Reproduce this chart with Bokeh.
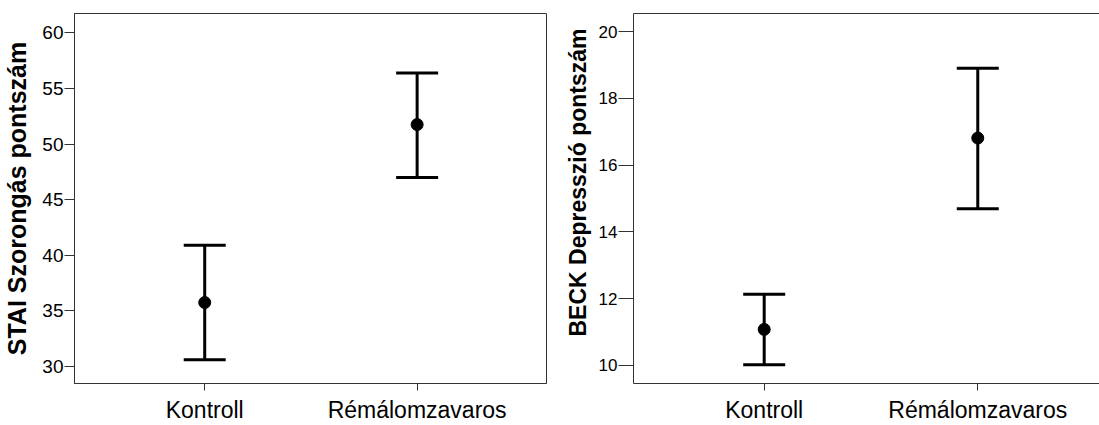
import numpy as np
from bokeh.plotting import figure
from bokeh.layouts import row
from bokeh.models import (ColumnDataSource, Whisker, TeeHead, Range1d,
                          FixedTicker, LinearAxis)
from bokeh.embed import file_html
from bokeh.resources import INLINE

# Groups
groups = ["Kontroll", "Rémálomzavaros"]

# STAI anxiety score: mean with 95% CI
stai_mean = [35.75, 51.75]
stai_lower = [30.6, 47.0]
stai_upper = [40.9, 56.4]

# BECK depression score: mean with 95% CI
beck_mean = [11.08, 16.81]
beck_lower = [10.02, 14.69]
beck_upper = [12.13, 18.9]

stai_ticks = [30, 35, 40, 45, 50, 55, 60]
beck_ticks = [10, 12, 14, 16, 18, 20]

FONT = "Liberation Sans"
INK = "#333333"
NBSP = "\u00a0"


def make_panel(mean, lower, upper, ylabel, yticks, y_range, x_range,
               width, left, tick_out, tick_px, label_px, label_standoff,
               full_frame):
    pos = [int(v) for v in np.arange(1, len(groups) + 1)]
    src = ColumnDataSource(dict(x=pos, mean=mean, lower=lower, upper=upper))

    p = figure(width=width, height=425, output_backend="svg",
               toolbar_location=None,
               x_range=Range1d(*x_range), y_range=Range1d(*y_range),
               min_border_left=left, min_border_right=2 if full_frame else 0,
               min_border_top=13, min_border_bottom=42)
    p.xgrid.visible = False
    p.ygrid.visible = False
    p.background_fill_color = "white"
    p.border_fill_color = "white"
    xa = p.below[0]
    ya = p.left[0]
    if full_frame:
        p.outline_line_color = INK
        p.outline_line_width = 1
    else:
        # open on the right: only a top rule above the frame
        p.outline_line_color = None
        top = LinearAxis(ticker=FixedTicker(ticks=[]),
                         major_tick_line_color=None, minor_tick_line_color=None,
                         major_tick_out=0, major_tick_in=0,
                         major_label_text_font_size="0px",
                         major_label_standoff=0, axis_line_color=INK)
        p.add_layout(top, "above")

    # error bars and means
    bars = Whisker(base="x", lower="lower", upper="upper", source=src,
                   line_width=3, line_color="black",
                   upper_head=TeeHead(size=42, line_width=3, line_color="black"),
                   lower_head=TeeHead(size=42, line_width=3, line_color="black"))
    p.add_layout(bars)
    p.scatter("x", "mean", source=src, size=12, color="black")

    # x axis: group names
    xa.ticker = FixedTicker(ticks=pos)
    xa.major_label_overrides = {v: g for v, g in zip(pos, groups)}
    xa.major_label_text_font = FONT
    xa.major_label_text_font_size = "23px"
    xa.major_label_text_color = "black"
    xa.major_label_standoff = 6
    xa.major_tick_out = 7
    xa.major_tick_in = 0
    xa.minor_tick_line_color = None
    xa.axis_line_color = INK
    xa.major_tick_line_color = INK

    ya.ticker = FixedTicker(ticks=yticks)
    ya.major_label_text_font = FONT
    ya.major_label_text_font_size = tick_px
    ya.major_label_text_color = "black"
    ya.major_label_standoff = 1
    ya.major_tick_out = tick_out
    ya.major_tick_in = 0
    ya.minor_tick_line_color = None
    ya.axis_line_color = INK
    ya.major_tick_line_color = INK
    ya.axis_label = ylabel
    ya.axis_label_text_font = FONT
    ya.axis_label_text_font_style = "bold"
    ya.axis_label_text_font_size = label_px
    ya.axis_label_text_color = "black"
    ya.axis_label_standoff = label_standoff
    return p


p1 = make_panel(stai_mean, stai_lower, stai_upper, "STAI Szorongás pontszám",
                stai_ticks, (28.47, 61.74), (0.387, 2.609),
                width=548, left=74, tick_out=10, tick_px="19px",
                label_px="25px", label_standoff=8, full_frame=True)
# leading no-break spaces lift the title a little above the frame's middle
p2 = make_panel(beck_mean, beck_lower, beck_upper,
                NBSP * 5 + "BECK Depresszió pontszám",
                beck_ticks, (9.46, 20.54), (0.388, 2.570),
                width=551, left=85, tick_out=15, tick_px="17px",
                label_px="23px", label_standoff=5, full_frame=False)

layout = row(p1, p2)
open("out.html", "w").write(file_html(layout, INLINE))
